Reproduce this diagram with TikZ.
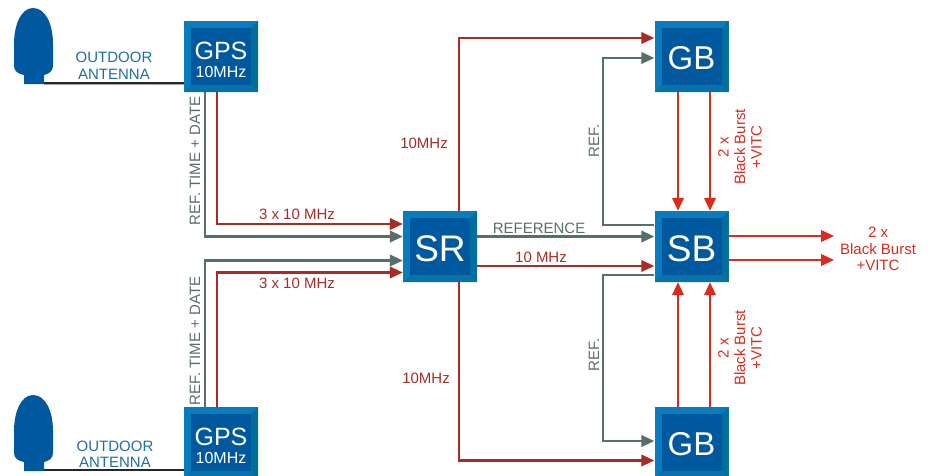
\documentclass[tikz,border=0pt]{standalone}
\usepackage{fontspec}
\setmainfont{Liberation Sans}
\usetikzlibrary{arrows.meta,calc}
\definecolor{bevelT}{HTML}{0A7CBE}
\definecolor{bevelR}{HTML}{006F9E}
\definecolor{bevelB}{HTML}{0A72AA}
\definecolor{inner}{HTML}{00589E}
\definecolor{antblue}{HTML}{00589E}
\definecolor{teal}{HTML}{1F6E9E}
\definecolor{wiregray}{HTML}{566F6B}
\definecolor{darkred}{HTML}{A92B25}
\definecolor{brightred}{HTML}{DD2A1C}
\tikzset{
  x=1pt,y=-1pt,
  blockbox/.style={minimum width=74pt,minimum height=71pt,inner sep=0pt,text=white,align=center,fill=bevelT,
    path picture={
      \fill[bevelR] (path picture bounding box.north east) -- ++(-7pt,-7pt) -- ($(path picture bounding box.south east)+(-7pt,7pt)$) -- (path picture bounding box.south east) -- cycle;
      \fill[bevelB] (path picture bounding box.south west) -- ++(7pt,7pt) -- ($(path picture bounding box.south east)+(-7pt,7pt)$) -- (path picture bounding box.south east) -- cycle;
      \fill[inner] ($(path picture bounding box.south west)+(7pt,7pt)$) rectangle ($(path picture bounding box.north east)+(-7pt,-7pt)$);
    }},
  graywire/.style={draw=wiregray,line width=2.3pt},
  redwire/.style={draw=darkred,line width=2.3pt},
  brightwire/.style={draw=brightred,line width=2.3pt},
  tip/.style={-{Triangle[length=13pt,width=11.5pt]}},
  antwire/.style={draw=black!85,line width=2pt},
  antlabel/.style={text=teal,font=\fontsize{15}{16.5}\selectfont,align=center,inner sep=0pt},
  graylabel/.style={text=wiregray,font=\fontsize{15}{16.5}\selectfont,inner sep=0pt,align=center},
  redlabel/.style={text=darkred,font=\fontsize{15}{16.5}\selectfont,inner sep=0pt,align=center},
  brightlabel/.style={text=brightred,font=\fontsize{15}{16.5}\selectfont,inner sep=0pt,align=center},
}
\newcommand{\gpslabel}{\rule{0pt}{25pt}\fontsize{25}{22}\selectfont GPS\\[6pt]\fontsize{16}{16}\selectfont 10MHz}
\newcommand{\antennashape}[1]{%
  \fill[antblue,shift={(0,#1)}] (24,84) -- (24,75) .. controls (18,74) and (14,71) .. (14,66)
   -- (14,44) .. controls (14,25) and (21,8) .. (33,8) .. controls (46,8) and (53,25) .. (53,44)
   -- (53,66) .. controls (53,71) and (49,74) .. (44,75) -- (44,84) -- cycle;}
\begin{document}
\begin{tikzpicture}
\useasboundingbox (0,0) rectangle (933,475);
\clip (0,0) rectangle (933,475);
% blocks
\node[blockbox] (gpsT) at (221,56.5) {\gpslabel};
\node[blockbox] (gpsB) at (221,442.5) {\gpslabel};
\node[blockbox,font=\fontsize{37}{37}\selectfont] (sr) at (440,246.5) {\rule{0pt}{30pt}SR};
\node[blockbox,font=\fontsize{37}{37}\selectfont] (sb) at (691.5,246.5) {\rule{0pt}{30pt}SB};
\node[blockbox,font=\fontsize{33}{33}\selectfont] (gbT) at (691.5,56.5) {\rule{0pt}{26pt}GB};
\node[blockbox,font=\fontsize{33}{33}\selectfont] (gbB) at (691.5,442.5) {\rule{0pt}{26pt}GB};
% antennas
\antennashape{0}
\antennashape{387}
\coordinate (antT) at (44,83);
\coordinate (antB) at (44,470);
\draw[draw=gray!70,line width=1pt] (44,84.5) -- (184,84.5);
\draw[antwire] (antT) -- (antT -| gpsT.west);
\draw[antwire] (antB) -- (antB -| gpsB.west);
% left wires
\draw[graywire,tip] ([xshift=-16pt]gpsT.south) |- ([yshift=10pt]sr.center -| sr.west);
\draw[redwire,tip] ([xshift=-4pt]gpsT.south) |- ([yshift=22.5pt]sr.center -| sr.west);
\draw[graywire,tip] ([xshift=-16pt]gpsB.north) |- ([yshift=-14pt]sr.center -| sr.west);
\draw[redwire,tip] ([xshift=-4pt]gpsB.north) |- ([yshift=-26pt]sr.center -| sr.west);
% SR outputs
\draw[graywire,tip] ([yshift=10pt]sr.east) -- ([yshift=10pt]sb.west);
\draw[redwire,tip] ([yshift=-19.5pt]sr.east) -- ([yshift=-19.5pt]sb.west);
\draw[redwire,tip] ([xshift=19pt]sr.north) |- ([yshift=18.5pt]gbT.west);
\draw[redwire,tip] ([xshift=19pt]sr.south) |- ([yshift=-18pt]gbB.west);
% reference
\draw[graywire,tip] ([yshift=21.5pt]sb.west) -- ++(-51,0) |- ([yshift=-1.5pt]gbT.west);
\draw[graywire,tip] ([yshift=-28.5pt]sb.west) -- ++(-51,0) |- ([yshift=1.5pt]gbB.west);
% GB <-> SB
\draw[brightwire,tip] ([xshift=-13.5pt]gbT.south) -- ([xshift=-13.5pt]sb.north);
\draw[brightwire,tip] ([xshift=18.5pt]gbT.south) -- ([xshift=18.5pt]sb.north);
\draw[brightwire,tip] ([xshift=-13.5pt]gbB.north) -- ([xshift=-13.5pt]sb.south);
\draw[brightwire,tip] ([xshift=18.5pt]gbB.north) -- ([xshift=18.5pt]sb.south);
% outputs
\coordinate (out1) at (834,236);
\coordinate (out2) at (834,260);
\draw[brightwire,tip] (out1 -| sb.east) -- (out1);
\draw[brightwire,tip] (out2 -| sb.east) -- (out2);
% labels
\node[antlabel] (lab1) at (114,66) {OUTDOOR\\ANTENNA};
\node[antlabel] (lab2) at (115,454) {OUTDOOR\\ANTENNA};
\node[graylabel,rotate=90] (lab3) at (195,161) {REF. TIME + DATE};
\node[graylabel,rotate=90] (lab4) at (195,341) {REF. TIME + DATE};
\node[redlabel] (lab5) at (297,214) {3 x 10 MHz};
\node[redlabel] (lab6) at (297,283) {3 x 10 MHz};
\node[redlabel] (lab7) at (424,143) {10MHz};
\node[redlabel] (lab8) at (426,378) {10MHz};
\node[graylabel] (lab9) at (539,228) {REFERENCE};
\node[redlabel] (lab10) at (541,257) {10 MHz};
\node[graylabel,rotate=90] (lab11) at (594,141) {REF.};
\node[graylabel,rotate=90] (lab12) at (594,355) {REF.};
\node[brightlabel,rotate=90] (lab13) at (740,147) {2 x\\Black Burst\\+VITC};
\node[brightlabel,rotate=90] (lab14) at (740,348) {2 x\\Black Burst\\+VITC};
\node[brightlabel] (lab15) at (878,249) {2 x\\Black Burst\\+VITC};
\end{tikzpicture}
\end{document}
